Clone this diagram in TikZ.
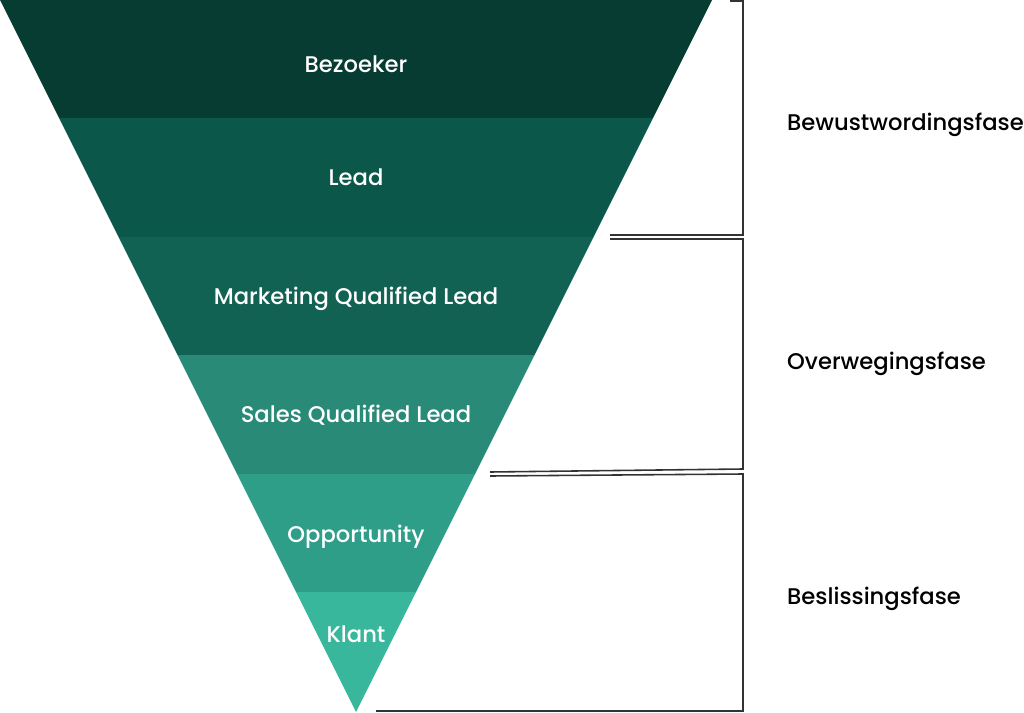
\documentclass[tikz,border=0pt]{standalone}
\usepackage{fontspec}
\setmainfont{Poppins}[UprightFont=* Medium]
\usetikzlibrary{positioning}

\definecolor{bandA}{HTML}{073C33}
\definecolor{bandB}{HTML}{0B584B}
\definecolor{bandC}{HTML}{126254}
\definecolor{bandD}{HTML}{2A8A78}
\definecolor{bandE}{HTML}{2F9E88}
\definecolor{bandF}{HTML}{39B79C}
\definecolor{brace}{HTML}{333333}

\tikzset{
  stage/.style={text=white, text depth=0pt, font=\fontsize{12.9}{15}\selectfont},
  phase/.style={anchor=west, text=black, text depth=0pt, font=\fontsize{12.9}{15}\selectfont},
  bracket/.style={draw=brace, line width=0.9pt}
}

\begin{document}
\begin{tikzpicture}[x=0.02cm, y=-0.02cm]
\useasboundingbox (0,0) rectangle (1024,713);

  \def\W{712}
  \def\A{356}

  %% -- Funnel bands ---------------------------
  \foreach \ya/\yb/\col in {0/118/bandA, 118/237/bandB, 237/355/bandC,
                            355/474/bandD, 474/592/bandE, 592/712/bandF}
    \fill[\col] (\ya/2,\ya) -- (\W-\ya/2,\ya) -- (\W-\yb/2,\yb)
                -- (\yb/2,\yb) -- cycle;

  % stage labels
  \node[stage] (bezoeker) at (\A,64)  {Bezoeker};
  \node[stage] (lead)     at (\A,177) {Lead};
  \node[stage] (mql)      at (\A,296) {Marketing Qualified Lead};
  \node[stage] (sql)      at (\A,414) {Sales Qualified Lead};
  \node[stage] (opp)      at (\A,534) {Opportunity};
  \node[stage] (klant)    at (\A,634) {Klant};

  %% -- Brackets -------------------------------
  \coordinate (b1a) at (730,1);   \coordinate (b1b) at (743,1);
  \coordinate (b1c) at (743,235); \coordinate (b1d) at (610,235);
  \coordinate (b2a) at (610,239); \coordinate (b2b) at (743,239);
  \coordinate (b2c) at (743,469); \coordinate (b2d) at (490,472);
  \coordinate (b3a) at (490,476); \coordinate (b3b) at (743,474);
  \coordinate (b3c) at (743,711); \coordinate (b3d) at (376,711);

  \draw[bracket] (b1a) -- (b1b) -- (b1c) -- (b1d);
  \draw[bracket] (b2a) -- (b2b) -- (b2c) -- (b2d);
  \draw[bracket] (b3a) -- (b3b) -- (b3c) -- (b3d);

  % phase labels
  \node[phase] (bewust)  at (781,122) {Bewustwordingsfase};
  \node[phase] (overweg) at (781,361) {Overwegingsfase};
  \node[phase] (beslis)  at (781,596) {Beslissingsfase};

\end{tikzpicture}
\end{document}
